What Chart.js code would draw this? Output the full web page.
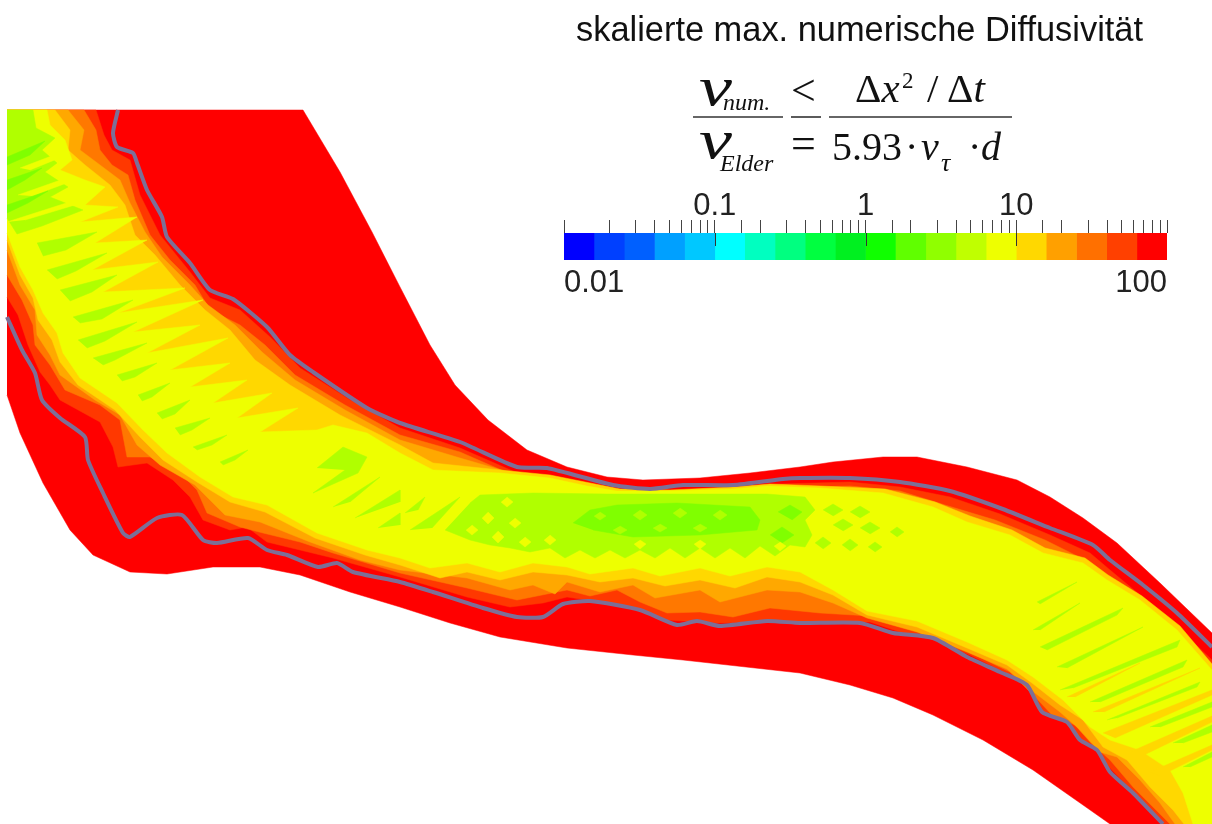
<!DOCTYPE html>
<html lang="de">
<head>
<meta charset="utf-8">
<title>skalierte max. numerische Diffusivität</title>
<script src="https://cdn.jsdelivr.net/npm/chart.js@4/dist/chart.umd.min.js"></script>
<style>
html,body{margin:0;padding:0;background:#fff;width:1212px;height:824px;overflow:hidden}
#field{position:absolute;left:0;top:0}
#barWrap{position:absolute;left:500px;top:180px;width:712px;height:120px}
#eq{position:absolute;left:0;top:0}
.sans{font-family:"Liberation Sans",Arial,sans-serif}
.serif{font-family:"Liberation Serif","Times New Roman",serif}
</style>
</head>
<body>
<canvas id="field" width="1212" height="824"></canvas>
<div id="barWrap"><canvas id="bar" width="712" height="120"></canvas></div>
<svg id="eq" width="1212" height="824" xmlns="http://www.w3.org/2000/svg">
  <text class="sans" x="576" y="41" font-size="34.4" fill="#111">skalierte max. numerische Diffusivität</text>
  <g class="serif" fill="#111">
    <text x="699" y="105" font-size="54" font-style="italic" textLength="33" lengthAdjust="spacingAndGlyphs">ν</text>
    <text x="723" y="110" font-size="24" font-style="italic">num.</text>
    <text x="699" y="158" font-size="54" font-style="italic" textLength="33" lengthAdjust="spacingAndGlyphs">ν</text>
    <text x="720" y="171" font-size="24" font-style="italic">Elder</text>
    <text x="791" y="105" font-size="44">&lt;</text>
    <text x="791" y="158" font-size="44">=</text>
    <text x="855" y="102" font-size="41">Δ<tspan font-style="italic">x</tspan></text>
    <text x="902" y="88" font-size="23">2</text>
    <text x="927" y="102" font-size="41">/</text>
    <text x="947" y="102" font-size="41">Δ<tspan font-style="italic">t</tspan></text>
    <text x="832" y="160" font-size="40">5.93</text>
    <text x="905" y="160" font-size="40">·</text>
    <text x="921" y="160" font-size="40" font-style="italic">v</text>
    <text x="941" y="171" font-size="26" font-style="italic">τ</text>
    <text x="968" y="160" font-size="40">·</text>
    <text x="981" y="160" font-size="40" font-style="italic">d</text>
  </g>
  <g stroke="#333" stroke-width="1.6">
    <line x1="693" y1="117" x2="783" y2="117"/>
    <line x1="791" y1="117" x2="821" y2="117"/>
    <line x1="829" y1="117" x2="1012" y2="117"/>
  </g>
</svg>
<script>
// ---------- contour levels of the flow field (x, y in picture units) ----------
const domainUpper = [[7,110],[303,110],[340,172],[372,232],[400,287],[430,345],[455,385],[488,420],[527,450],[567,467],[607,477],[643,480],[700,478],[750,473],[800,467],[833,462],[883,457],[917,457],[967,467],[1017,480],[1050,497],[1083,518],[1117,543],[1160,583],[1212,633]];
const domainLower = [[7,395],[20,433],[43,483],[70,530],[93,555],[130,572],[167,574],[213,567],[260,567],[300,575],[350,592],[400,607],[450,623],[500,637],[567,648],[633,655],[683,660],[800,673],[850,685],[893,698],[933,715],[983,740],[1033,770],[1083,805],[1110,824]];

const redOrangeUpper = [[7,110],[96,110],[104,135],[112,150],[130,160],[140,195],[160,235],[190,272],[210,298],[240,310],[270,337],[300,368],[350,400],[400,428],[460,448],[515,472],[560,480],[620,490],[660,493],[700,489],[780,484],[850,482],[900,487],[950,497],[1000,514],[1050,535],[1090,553],[1110,570],[1140,595],[1175,625],[1212,660]];
const redOrangeLower = [[7,297],[18,315],[28,345],[40,372],[50,385],[60,400],[100,422],[113,447],[118,467],[147,463],[173,480],[190,497],[203,520],[230,530],[247,527],[267,542],[300,550],[333,558],[400,577],[467,597],[510,607],[543,603],[567,597],[633,607],[667,620],[717,623],[820,622],[870,622],[900,632],[935,640],[970,655],[1000,670],[1027,683],[1040,712],[1065,722],[1080,740],[1097,750],[1110,768],[1133,792],[1163,824]];

const orangeUpper = [[7,110],[84,110],[96,130],[100,150],[112,165],[128,175],[135,200],[150,235],[170,260],[195,285],[210,310],[240,325],[265,345],[295,375],[345,405],[400,435],[460,452],[515,476],[570,487],[620,493],[660,496],[700,491],[780,488],[850,486],[900,491],[945,505],[995,520],[1045,540],[1085,560],[1105,580],[1135,605],[1170,635],[1212,675]];
const orangeLower = [[7,275],[22,300],[33,325],[35,345],[50,365],[65,390],[100,405],[120,420],[127,457],[150,457],[180,473],[197,490],[207,513],[240,527],[263,533],[300,542],[333,553],[400,573],[467,588],[517,600],[567,590],[590,596],[617,590],[640,602],[667,613],[700,612],[733,617],[770,608],[820,613],[870,616],[895,625],[935,636],[975,655],[1010,672],[1038,700],[1052,715],[1075,725],[1090,742],[1110,760],[1133,787],[1153,807],[1170,824]];

const amberUpper = [[7,110],[68,110],[84,130],[80,150],[100,165],[120,180],[130,203],[145,232],[162,257],[190,285],[208,305],[235,325],[262,352],[295,380],[345,410],[400,440],[460,458],[515,474],[570,484],[620,491],[665,493],[735,489],[775,486],[820,487],[885,491],[935,505],[970,519],[1012,533],[1045,551],[1085,561],[1108,578],[1142,600],[1178,630],[1212,668]];
const amberLower = [[7,250],[20,285],[35,310],[37,335],[50,355],[60,375],[95,400],[120,415],[137,445],[160,465],[195,485],[225,515],[260,522],[310,542],[360,560],[400,570],[467,578],[510,590],[533,585],[555,594],[567,582],[600,592],[633,585],[655,598],[700,590],[720,602],[767,590],[800,592],[833,603],[867,618],[917,632],[967,652],[1007,669],[1035,693],[1060,712],[1078,728],[1100,752],[1117,757],[1140,780],[1160,803],[1175,824]];

const goldUpper = [[7,110],[55,110],[70,130],[68,150],[85,165],[110,185],[125,205],[135,235],[155,255],[180,285],[205,310],[230,330],[255,360],[290,385],[340,415],[400,445],[433,463],[500,470],[550,475],[590,483],[620,489],[670,490],[735,487],[770,484],[820,486],[885,489],[935,502],[970,516],[1012,530],[1045,548],[1085,558],[1108,575],[1142,596],[1180,626],[1212,664]];
const goldLower = [[7,240],[20,275],[33,298],[38,320],[52,340],[60,362],[78,385],[115,410],[140,437],[163,460],[197,482],[230,502],[265,512],[315,538],[365,555],[400,565],[440,578],[467,572],[500,580],[533,572],[567,575],[600,582],[633,578],[665,586],[700,580],[735,588],[767,577],[800,582],[833,595],[867,615],[917,627],[967,648],[1007,665],[1032,683],[1060,705],[1083,720],[1103,747],[1127,760],[1150,787],[1173,810],[1184,824]];

const yellowUpper = [[7,110],[47,110],[50,125],[65,140],[72,160],[60,170],[85,180],[105,187],[85,205],[118,207],[80,222],[137,217],[95,243],[147,240],[92,270],[158,262],[103,292],[185,288],[118,313],[203,300],[133,332],[200,325],[147,353],[228,338],[170,370],[230,363],[190,387],[247,380],[213,403],[272,393],[237,418],[298,408],[260,432],[317,430],[333,425],[367,433],[400,453],[433,470],[500,473],[550,478],[587,486],[617,491],[667,491],[733,489],[767,486],[820,488],[883,493],[933,507],[967,522],[1010,535],[1043,553],[1083,563],[1107,580],[1140,600],[1177,630],[1212,670]];
const yellowLower = [[7,233],[20,267],[33,290],[43,313],[57,333],[63,353],[80,378],[117,403],[143,430],[167,453],[200,477],[233,497],[267,505],[317,533],[367,550],[400,558],[430,568],[467,563],[500,572],[533,563],[567,567],[590,574],[633,568],[660,576],[700,568],[730,576],[767,567],[800,572],[833,590],[867,611],[917,621],[967,642],[1007,660],[1033,677],[1063,700],[1090,727],[1110,740],[1140,750],[1170,770],[1183,793],[1193,824]];

// ---------- saw-tooth patches inside the channel ----------
const limeTopLeft = [[7,110],[33,110],[36,128],[55,138],[42,150],[57,163],[45,172],[68,187],[50,197],[83,210],[42,226],[17,234],[7,218]];
const yellowNotch1 = [[20,168],[62,152],[62,157],[30,170]];
const yellowNotch2 = [[18,195],[72,176],[72,181],[32,196]];
const yellowNotch3 = [[7,222],[85,197],[88,201],[25,220]];
const limeStreak05 = [[37,243],[97,232],[66,250],[43,256]];
const limeStreak06 = [[47,270],[107,253],[76,271],[57,279]];
const limeStreak07 = [[60,290],[117,275],[92,292],[70,301]];
const limeStreak08 = [[73,317],[133,300],[102,319],[80,323]];
const limeStreak09 = [[78,340],[137,322],[105,341],[87,348]];
const limeStreak10 = [[93,358],[147,343],[115,360],[103,365]];
const limeStreak11 = [[117,375],[157,363],[135,377],[122,381]];
const limeStreak12 = [[138,395],[170,383],[152,397],[142,401]];
const limeStreak13 = [[157,413],[190,400],[175,414],[162,419]];
const limeStreak14 = [[175,428],[210,418],[192,430],[180,435]];
const limeStreak15 = [[193,447],[227,435],[212,445],[197,450]];
const limeStreak16 = [[220,462],[248,450],[235,460],[223,465]];
const limePatch = [[317,468],[343,447],[367,457],[358,473],[313,493],[345,470]];
const limeStreak17 = [[333,507],[380,477],[350,502]];
const limeStreak18 = [[355,518],[400,490],[400,502]];
const limeStreak19 = [[378,528],[400,513],[400,525]];
const limeStreak20 = [[405,513],[425,497],[418,510]];
const limeStreak21 = [[410,530],[460,497],[432,528]];
const limeCentre = [[470,503],[480,495],[533,493],[607,494],[667,494],[767,494],[805,497],[815,510],[805,520],[812,535],[805,547],[790,545],[775,556],[760,546],[745,558],[730,548],[715,558],[700,548],[685,558],[670,548],[655,558],[640,550],[625,558],[610,550],[595,558],[580,550],[565,558],[550,548],[530,552],[510,548],[490,545],[470,540],[445,530]];
const limeDiamond1 = [[823,510],[833,504],[843,510],[833,516]];
const limeDiamond2 = [[850,512],[860,506],[870,512],[860,518]];
const limeDiamond3 = [[833,525],[843,519],[853,525],[843,531]];
const limeDiamond4 = [[860,528],[870,522],[880,528],[870,534]];
const limeDiamond5 = [[815,543],[823,537],[831,543],[823,549]];
const limeDiamond6 = [[842,545],[850,539],[858,545],[850,551]];
const limeDiamond7 = [[868,547],[875,542],[882,547],[875,552]];
const limeDiamond8 = [[890,532],[897,527],[904,532],[897,537]];
const greenCore1 = [[573,523],[590,510],[617,505],[677,503],[750,507],[760,520],[757,530],[700,535],[633,537],[593,530]];
const greenCore2 = [[778,512],[790,505],[802,512],[792,520]];
const greenCore5 = [[770,535],[782,527],[794,535],[782,543]];
const rightStreak1 = [[1037,602],[1077,582],[1040,604]];
const rightStreak2 = [[1033,630],[1080,603],[1040,630]];
const rightStreak3 = [[1040,647],[1123,608],[1117,615],[1047,650]];
const rightStreak4 = [[1057,667],[1143,627],[1067,668]];
const rightStreak5 = [[1060,690],[1180,640],[1177,647],[1073,688]];
const rightStreak6 = [[1090,702],[1187,660],[1183,667],[1100,702]];
const rightStreak7 = [[1107,720],[1200,682],[1197,687],[1117,718]];
const rightStreak8 = [[1150,727],[1212,702],[1212,707],[1160,727]];
const rightStreak9 = [[1173,743],[1212,725],[1212,732],[1183,743]];
const rightStreak10 = [[1183,767],[1212,752],[1212,757],[1190,767]];
const amberStreak1 = [[1067,697],[1140,663],[1075,697]];
const amberStreak2 = [[1093,712],[1200,668],[1104,712]];
const amberStreak3 = [[1103,733],[1212,690],[1212,695],[1115,738]];
const amberStreak4 = [[1130,752],[1212,716],[1212,722],[1142,756]];
const amberStreak5 = [[1150,772],[1212,745],[1212,750],[1160,776]];
const speck1 = [[488,512],[494,518],[488,524],[482,518]];
const speck2 = [[515,518],[521,523],[515,528],[509,523]];
const speck3 = [[498,531],[504,537],[498,543],[492,537]];
const speck4 = [[525,537],[531,542],[525,547],[519,542]];
const speck5 = [[472,525],[478,530],[472,535],[466,530]];
const speck6 = [[507,497],[513,502],[507,507],[501,502]];
const speck7 = [[550,535],[556,540],[550,545],[544,540]];
const speck8 = [[700,540],[706,544],[700,549],[694,544]];
const speck9 = [[640,540],[646,544],[640,549],[634,544]];
const speck10 = [[780,542],[786,546],[780,551],[774,546]];
const coreSpeck1 = [[600,512],[606,516],[600,520],[594,516]];
const coreSpeck2 = [[640,510],[647,515],[640,520],[633,515]];
const coreSpeck3 = [[680,508],[687,513],[680,518],[673,513]];
const coreSpeck4 = [[720,510],[727,515],[720,520],[713,515]];
const coreSpeck5 = [[620,526],[627,530],[620,534],[613,530]];
const coreSpeck6 = [[660,524],[667,528],[660,532],[653,528]];
const coreSpeck7 = [[700,524],[707,528],[700,532],[693,528]];

// ---------- green cores of the left streaks ----------
const greenStreak1 = [[7,157],[45,141],[30,155],[7,165]];
const greenStreak2 = [[7,180],[42,168],[25,180],[7,190]];
const greenStreak3 = [[7,205],[48,191],[28,203],[7,213]];

// ---------- the grey near-wall curves ----------
const wallUpper = [[118,110],[113,133],[117,147],[133,153],[137,163],[147,190],[162,217],[167,237],[190,263],[210,290],[233,299],[267,327],[290,355],[313,372],[367,408],[400,423],[460,442],[517,467],[547,468],[613,485],[650,489],[683,485],[733,485],[783,479],[800,478],[850,478],[900,482],[950,491],[1000,508],[1050,528],[1093,545],[1110,560],[1143,585],[1177,613],[1212,647]];
const wallLower = [[7,317],[22,350],[35,373],[42,400],[60,418],[85,437],[88,460],[103,493],[123,533],[130,537],[157,518],[182,515],[203,540],[217,543],[248,538],[267,550],[287,555],[318,567],[337,563],[353,572],[400,582],[433,592],[483,608],[517,617],[543,617],[563,604],[590,601],[640,610],[677,625],[697,621],[720,626],[767,621],[800,623],[860,623],[893,633],[933,638],[967,657],[1000,672],[1027,685],[1042,712],[1067,722],[1080,740],[1097,750],[1110,772],[1133,793],[1163,824]];

// ---------- colour bar ----------
const barEdges = [0.01,0.0158,0.0251,0.0398,0.0631,0.1,0.158,0.251,0.398,0.631,1,1.58,2.51,3.98,6.31,10,15.8,25.1,39.8,63.1,100];
const barColours = ['#0000ff','#0040ff','#0060ff','#00a0ff','#00c8ff','#00ffff','#00ffc0','#00ff80','#00ff40','#00f020','#10ff00','#60ff00','#90ff00','#c0ff00','#eeff00','#ffd800','#ffa000','#ff7000','#ff4000','#ff0000'];
const topTickLabels = [0.1,1,10];
const bottomTickLabels = [0.01,100];

const RED='#ff0000', REDORANGE='#ff3800', ORANGE='#ff7800', AMBER='#ffa800', GOLD='#ffd800', YELLOW='#eeff00', LIME='#b0ff00', GREEN='#80ff00', WALL='#7d6f97';
const toPts = a => a.map(p => ({x:p[0], y:p[1]}));
const band = (up, low) => [...up, [1212,824], ...low.slice().reverse()];
const shape = (pts, colour) => ({data:toPts(pts), showLine:true, fill:'shape', backgroundColor:colour, borderColor:colour, borderWidth:0.5, pointRadius:0, tension:0});
const curve = (pts, colour) => ({data:toPts(pts), showLine:true, fill:false, borderColor:colour, borderWidth:4, pointRadius:0, tension:0.2, borderJoinStyle:'round'});

const layers = [
  shape(band(domainUpper, domainLower), RED),
  shape(band(redOrangeUpper, redOrangeLower), REDORANGE),
  shape(band(orangeUpper, orangeLower), ORANGE),
  shape(band(amberUpper, amberLower), AMBER),
  shape(band(goldUpper, goldLower), GOLD),
  shape(band(yellowUpper, yellowLower), YELLOW),
  ...[amberStreak1,amberStreak2,amberStreak3,amberStreak4,amberStreak5].map(s => shape(s, GOLD)),
  ...[limeTopLeft,limeStreak05,limeStreak06,limeStreak07,limeStreak08,limeStreak09,limeStreak10,limeStreak11,limeStreak12,limeStreak13,limeStreak14,limeStreak15,limeStreak16,limePatch,limeStreak17,limeStreak18,limeStreak19,limeStreak20,limeStreak21,limeCentre,limeDiamond1,limeDiamond2,limeDiamond3,limeDiamond4,limeDiamond5,limeDiamond6,limeDiamond7,limeDiamond8,rightStreak1,rightStreak2,rightStreak3,rightStreak4,rightStreak5,rightStreak6,rightStreak7,rightStreak8,rightStreak9,rightStreak10].map(s => shape(s, LIME)),
  ...[yellowNotch1,yellowNotch2,yellowNotch3].map(s => shape(s, YELLOW)),
  ...[greenStreak1,greenStreak2,greenStreak3,greenCore1,greenCore2,greenCore5].map(s => shape(s, GREEN)),
  ...[coreSpeck1,coreSpeck2,coreSpeck3,coreSpeck4,coreSpeck5,coreSpeck6,coreSpeck7].map(s => shape(s, LIME)),
  ...[speck1,speck2,speck3,speck4,speck5,speck6,speck7,speck8,speck9,speck10].map(s => shape(s, YELLOW)),
  curve(wallUpper, WALL),
  curve(wallLower, WALL)
];

Chart.defaults.animation = false;

new Chart(document.getElementById('field'), {
  type:'scatter',
  data:{datasets:layers.slice().reverse()},   // Chart.js paints the first dataset last
  options:{
    responsive:false, animation:false,
    layout:{padding:0},
    plugins:{legend:{display:false}, tooltip:{enabled:false}},
    scales:{
      x:{type:'linear', min:0, max:1212, display:false},
      y:{type:'linear', min:0, max:824, reverse:true, display:false}
    }
  }
});

const majorTicks = {
  id:'majorTicks',
  afterDatasetsDraw(chart){
    const {ctx, scales:{x}, chartArea:a} = chart;
    ctx.save(); ctx.strokeStyle='#333'; ctx.lineWidth=1;
    topTickLabels.forEach(v => {
      const px = Math.round(x.getPixelForValue(v))+0.5;
      ctx.beginPath(); ctx.moveTo(px,a.top); ctx.lineTo(px,a.top+13); ctx.stroke();
    });
    ctx.restore();
  }
};
const near = (v,list) => list.some(t => Math.abs(v-t) < t*1e-6);

new Chart(document.getElementById('bar'), {
  type:'bar',
  data:{
    labels:['Diffusivität'],
    datasets:barColours.map((c,i) => ({data:[[barEdges[i],barEdges[i+1]]], backgroundColor:c, borderWidth:0, grouped:false, barPercentage:1, categoryPercentage:1, xAxisID:'x'}))
  },
  options:{
    indexAxis:'y', responsive:false, animation:false,
    layout:{padding:{left:64,right:45,top:0,bottom:0}},
    plugins:{legend:{display:false}, tooltip:{enabled:false}},
    scales:{
      y:{display:false},
      x:{
        type:'logarithmic', position:'top', min:0.01, max:100,
        afterFit(s){s.height=53;},
        border:{display:false},
        grid:{drawOnChartArea:false, drawTicks:true, tickLength:13, color:'#444', tickColor:'#444'},
        ticks:{autoSkip:false, maxRotation:0, padding:-5, color:'#222',
          font:{family:'"Liberation Sans", sans-serif', size:31},
          callback:v => near(v,topTickLabels) ? String(+v.toPrecision(3)) : ''}
      },
      x2:{
        type:'logarithmic', position:'bottom', min:0.01, max:100,
        afterFit(s){s.height=40;},
        afterBuildTicks(s){s.ticks = bottomTickLabels.map(v => ({value:v}));},
        border:{display:false},
        grid:{display:false},
        ticks:{autoSkip:false, maxRotation:0, align:'inner', padding:-3, color:'#222',
          font:{family:'"Liberation Sans", sans-serif', size:31},
          callback:v => String(+v.toPrecision(3))}
      }
    }
  },
  plugins:[majorTicks]
});
</script>
</body>
</html>
